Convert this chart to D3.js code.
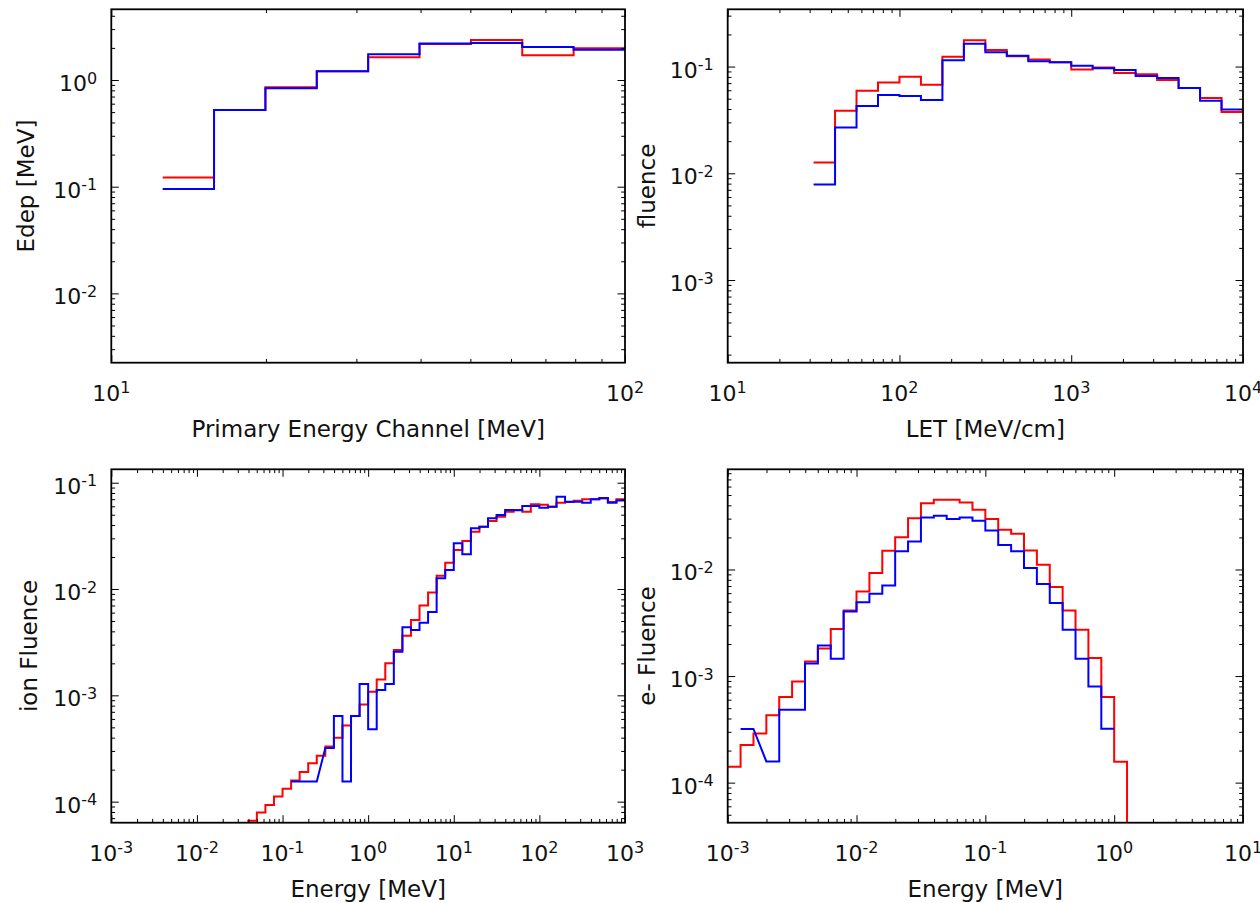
<!DOCTYPE html>
<html><head><meta charset="utf-8">
<script src="https://cdn.jsdelivr.net/npm/d3@7"></script>
<style>
body{margin:0;background:#fff}
svg{display:block}
text{font-family:"DejaVu Sans",sans-serif;fill:#111}
</style>
</head><body>
<svg id="chart" width="1260" height="903"></svg>
<script>
// ---------- Panel 1: Edep vs primary energy channel ----------
const edepLogEdges = [1.1,1.2,1.3,1.4,1.5,1.6,1.7,1.8,1.9,2.0];
const edepRed  = [0.122,0.523,0.853,1.21,1.63,2.17,2.37,1.71,1.98];
const edepBlue = [0.095,0.523,0.836,1.21,1.74,2.20,2.22,2.04,1.92];

// ---------- Panel 2: LET fluence ----------
const letLogEdges = [1.5,1.625,1.75,1.875,2.0,2.125,2.25,2.375,2.5,2.625,2.75,2.875,3.0,3.125,3.25,3.375,3.5,3.625,3.75,3.875,4.0];
const letRed  = [0.01264,0.0385,0.0593,0.0711,0.0803,0.0675,0.1236,0.176,0.143,0.125,0.1167,0.110,0.094,0.098,0.0869,0.0845,0.0747,0.0629,0.0507,0.0375];
const letBlue = [0.00787,0.0269,0.0427,0.0541,0.0529,0.0486,0.1143,0.1637,0.136,0.1262,0.112,0.110,0.1018,0.0962,0.0927,0.0815,0.078,0.0629,0.0479,0.0397];

// ---------- Panel 3: ion fluence vs energy ----------
const ionLogEdges = [-1.6,-1.5,-1.4,-1.3,-1.2,-1.1,-1.0,-0.9,-0.8,-0.7,-0.6,-0.5,-0.4,-0.3,-0.2,-0.1,
  0.0,0.1,0.2,0.3,0.4,0.5,0.6,0.7,0.8,0.9,1.0,1.1,1.2,1.3,1.4,1.5,1.6,1.7,1.8,1.9,
  2.0,2.1,2.2,2.3,2.4,2.5,2.6,2.7,2.8,2.9,3.0];
const ionRed = [4.6e-5,5.5e-5,6.6e-5,7.9e-5,9.3e-5,1.12e-4,1.32e-4,1.58e-4,1.9e-4,2.3e-4,
  2.7e-4,3.3e-4,4.0e-4,5.2e-4,6.4e-4,8.2e-4,1.08e-3,1.41e-3,2.0e-3,2.67e-3,
  3.64e-3,5.1e-3,7.0e-3,9.3e-3,0.0133,0.0177,0.0233,0.0283,0.0346,0.0385,
  0.0436,0.0479,0.0533,0.0553,0.0533,0.0627,0.062,0.0594,0.0649,0.066,
  0.0678,0.0698,0.0698,0.071,0.066,0.0698];
const ionBlue = [null,null,null,null,null,null,null,1.55e-4,1.55e-4,1.55e-4,
  null,3.2e-4,6.4e-4,1.55e-4,6.4e-4,1.28e-3,4.8e-4,1.12e-3,1.28e-3,2.57e-3,
  4.36e-3,4.11e-3,4.82e-3,6.08e-3,0.0126,0.0151,0.0269,0.0212,0.0372,0.0385,
  0.0463,0.0497,0.0553,0.055,0.0604,0.0604,0.0582,0.0594,0.0738,0.0663,
  0.0663,0.0649,0.0698,0.0718,0.0649,0.068];

// ---------- Panel 4: electron fluence vs energy ----------
const eLogEdges = [-3.0,-2.9,-2.8,-2.7,-2.6,-2.5,-2.4,-2.3,-2.2,-2.1,-2.0,-1.9,-1.8,-1.7,-1.6,-1.5,
  -1.4,-1.3,-1.2,-1.1,-1.0,-0.9,-0.8,-0.7,-0.6,-0.5,-0.4,-0.3,-0.2,-0.1,0.0,0.1,0.2];
const eRed = [1.41e-4,2.25e-4,2.89e-4,4.28e-4,6.37e-4,8.9e-4,1.37e-3,1.81e-3,2.76e-3,4.13e-3,
  6.22e-3,9.25e-3,0.0150,0.0201,0.0303,0.0419,0.045,0.045,0.0425,0.0363,
  0.0297,0.0236,0.0216,0.0151,0.0111,6.84e-3,4.13e-3,2.72e-3,1.48e-3,6.37e-4,
  1.57e-4,0];
const eBlue = [null,3.19e-4,null,1.58e-4,4.84e-4,4.84e-4,1.31e-3,1.94e-3,1.45e-3,4.03e-3,
  4.94e-3,5.92e-3,7.08e-3,0.0148,0.0183,0.0307,0.0319,0.0298,0.0307,0.0286,
  0.0232,0.017,0.0148,0.0103,7.29e-3,4.84e-3,2.72e-3,1.45e-3,8.0e-4,3.21e-4,
  null,null];

// ---------- Axis tick labels (exponents of decades) ----------
const p1XTicks = [1,2], p1YTicks = [-2,-1,0];
const p2XTicks = [1,2,3,4], p2YTicks = [-3,-2,-1];
const p3XTicks = [-3,-2,-1,0,1,2,3], p3YTicks = [-4,-3,-2,-1];
const p4XTicks = [-3,-2,-1,0,1], p4YTicks = [-4,-3,-2];

const panels = [
  {box:[111.3,625,9.3,362.7], xd:[10,100], yd:[0.00224,4.60], xt:p1XTicks, yt:p1YTicks,
   xlabel:"Primary Energy Channel [MeV]", ylabel:"Edep [MeV]", ylx:34,
   edges:edepLogEdges, red:edepRed, blue:edepBlue},
  {box:[727.7,1243,9.3,362.7], xd:[10,1e4], yd:[1.68e-4,0.344], xt:p2XTicks, yt:p2YTicks,
   xlabel:"LET [MeV/cm]", ylabel:"fluence", ylx:655,
   edges:letLogEdges, red:letRed, blue:letBlue},
  {box:[111.3,625,469.3,822.7], xd:[1e-3,1e3], yd:[6.34e-5,0.1337], xt:p3XTicks, yt:p3YTicks,
   xlabel:"Energy [MeV]", ylabel:"ion Fluence", ylx:36.5,
   edges:ionLogEdges, red:ionRed, blue:ionBlue},
  {box:[727.7,1243,469.3,822.7], xd:[1e-3,10], yd:[4.21e-5,0.0871], xt:p4XTicks, yt:p4YTicks,
   xlabel:"Energy [MeV]", ylabel:"e- Fluence", ylx:655,
   edges:eLogEdges, red:eRed, blue:eBlue}
];

const TICKFS = 22, SUPFS = 16, SUPDY = 7.5, LABELFS = 23;
const MAJ = 7.5, MIN = 3.8;
const svg = d3.select("#chart");

function minorTicks(domain){
  const [a,b] = domain.slice().sort((m,n)=>m-n);
  const out = [];
  for(let d=Math.floor(Math.log10(a)); d<=Math.ceil(Math.log10(b)); d++){
    for(let k=2;k<=9;k++){ const v=k*Math.pow(10,d); if(v>=a*0.9999 && v<=b*1.0001) out.push(v); }
  }
  return out;
}
function majorTicks(domain){
  const [a,b] = domain.slice().sort((m,n)=>m-n);
  const out=[];
  for(let d=Math.ceil(Math.log10(a)-1e-9); d<=Math.floor(Math.log10(b)+1e-9); d++) out.push(Math.pow(10,d));
  return out;
}
function expText(g, x, y, e, anchor){
  const t = g.append("text").attr("x",x).attr("y",y).attr("text-anchor",anchor).attr("font-size",TICKFS);
  t.append("tspan").text("10");
  t.append("tspan").attr("dy",-SUPDY).attr("font-size",SUPFS).text(e<0 ? "-"+Math.abs(e) : String(e));
}

panels.forEach((p,i)=>{
  const [x0,x1,y0,y1] = p.box;
  const xs = d3.scaleLog().domain(p.xd).range([x0,x1]);
  const ys = d3.scaleLog().domain(p.yd).range([y1,y0]);
  const g = svg.append("g");

  const clipId = "clip"+i;
  svg.append("clipPath").attr("id",clipId).append("rect")
    .attr("x",x0).attr("y",y0).attr("width",x1-x0).attr("height",y1-y0);

  // data lines (red first, blue on top)
  const yOf = v => v>0 ? ys(v) : y1+2000;
  [[p.red,"#ff0000"],[p.blue,"#0000ff"]].forEach(([vals,col])=>{
    const pts=[];
    vals.forEach((v,k)=>{
      if(v===null) return;
      pts.push([xs(Math.pow(10,p.edges[k])), yOf(v)]);
      pts.push([xs(Math.pow(10,p.edges[k+1])), yOf(v)]);
    });
    g.append("path").attr("d", d3.line()(pts))
      .attr("fill","none").attr("stroke",col).attr("stroke-width",2)
      .attr("stroke-linejoin","miter").attr("clip-path",`url(#${clipId})`);
  });

  // ticks (inward, all four sides)
  const xMaj = majorTicks(p.xd), xMin = minorTicks(p.xd);
  const yMaj = majorTicks(p.yd), yMin = minorTicks(p.yd);
  const mk = (fn, sc, vals, size, tr) => g.append("g").attr("transform",tr)
      .call(fn(sc).tickValues(vals).tickSize(-size).tickFormat(""))
      .call(s=>{ s.select(".domain").remove(); s.selectAll("line").attr("stroke","#000").attr("stroke-width",1); });
  mk(d3.axisBottom, xs, xMaj, MAJ, `translate(0,${y1})`);
  mk(d3.axisBottom, xs, xMin, MIN, `translate(0,${y1})`);
  mk(d3.axisTop, xs, xMaj, MAJ, `translate(0,${y0})`);
  mk(d3.axisTop, xs, xMin, MIN, `translate(0,${y0})`);
  mk(d3.axisLeft, ys, yMaj, MAJ, `translate(${x0},0)`);
  mk(d3.axisLeft, ys, yMin, MIN, `translate(${x0},0)`);
  mk(d3.axisRight, ys, yMaj, MAJ, `translate(${x1},0)`);
  mk(d3.axisRight, ys, yMin, MIN, `translate(${x1},0)`);

  // frame
  g.append("rect").attr("x",x0).attr("y",y0).attr("width",x1-x0).attr("height",y1-y0)
    .attr("fill","none").attr("stroke","#000").attr("stroke-width",1.8);

  // tick labels
  p.xt.forEach(e=> expText(g, xs(Math.pow(10,e)), y1+38, e, "middle"));
  p.yt.forEach(e=> expText(g, x0-14, ys(Math.pow(10,e))+11, e, "end"));

  // axis labels
  g.append("text").attr("x",(x0+x1)/2).attr("y",y1+74).attr("text-anchor","middle")
    .attr("font-size",LABELFS).text(p.xlabel);
  g.append("text").attr("transform",`translate(${p.ylx},${(y0+y1)/2}) rotate(-90)`)
    .attr("text-anchor","middle").attr("font-size",LABELFS).text(p.ylabel);
});
</script>
</body></html>
